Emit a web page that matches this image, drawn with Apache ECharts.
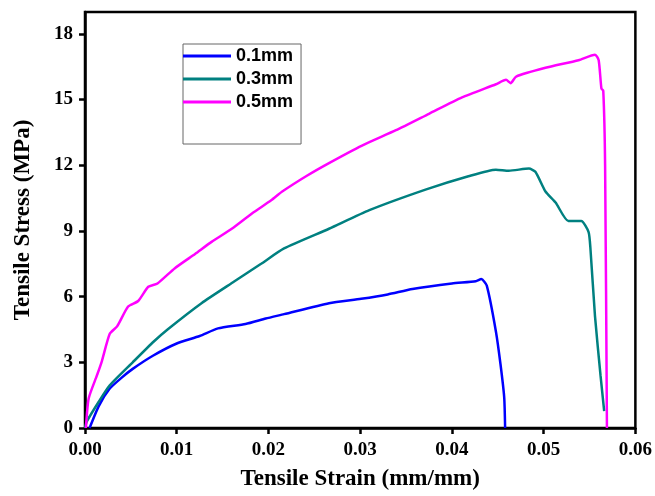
<!DOCTYPE html>
<html>
<head>
<meta charset="utf-8">
<script src="https://cdn.jsdelivr.net/npm/echarts@6/dist/echarts.min.js"></script>
<style type="text/css">
  html, body { margin: 0; padding: 0; background: #fff; }
  #chart { width: 655px; height: 496px; }
</style>
</head>
<body>
<div id="chart"></div>
<script>
  // 0.1mm
  var strain01 = [0.0005, 0.0015, 0.0027, 0.0040, 0.0052, 0.0074, 0.0100, 0.0125, 0.0145, 0.0175, 0.0197, 0.0217, 0.0266, 0.0301, 0.0330, 0.0357, 0.0400, 0.0426, 0.0432, 0.0438, 0.0448, 0.0453, 0.0457, 0.0458];
  var stress01 = [0, 1.0, 1.8, 2.3, 2.7, 3.3, 3.86, 4.2, 4.55, 4.75, 5.0, 5.2, 5.7, 5.9, 6.1, 6.35, 6.6, 6.7, 6.8, 6.5, 4.4, 2.9, 1.4, 0];
  // 0.3mm
  var strain03 = [0, 0.0002, 0.0015, 0.0027, 0.0052, 0.0075, 0.0090, 0.0127, 0.0163, 0.0192, 0.0217, 0.0266, 0.0310, 0.0372, 0.0418, 0.0448, 0.0462, 0.0484, 0.0491, 0.0502, 0.0513, 0.0527, 0.0541, 0.0549, 0.0551, 0.0556, 0.0562, 0.0566];
  var stress03 = [0, 0.3, 1.2, 1.95, 3.0, 3.95, 4.5, 5.7, 6.7, 7.5, 8.2, 9.1, 9.95, 10.9, 11.5, 11.8, 11.75, 11.85, 11.7, 10.8, 10.3, 9.45, 9.45, 8.95, 8.2, 5.1, 2.4, 0.77];
  // 0.5mm
  var strain05 = [0.0001, 0.0004, 0.0013, 0.0018, 0.0027, 0.0035, 0.0047, 0.0058, 0.0069, 0.0079, 0.0098, 0.0120, 0.0138, 0.0160, 0.0182, 0.0203, 0.0215, 0.0241, 0.0266, 0.0302, 0.0339, 0.0375, 0.0411, 0.0448, 0.0459, 0.0464, 0.0470, 0.0502, 0.0538, 0.0556, 0.0560, 0.0563, 0.0565, 0.0567, 0.0569];
  var stress05 = [0, 1.35, 2.4, 3.0, 4.3, 4.64, 5.55, 5.8, 6.45, 6.6, 7.3, 7.95, 8.5, 9.1, 9.8, 10.4, 10.8, 11.5, 12.1, 12.9, 13.6, 14.35, 15.1, 15.7, 15.9, 15.75, 16.05, 16.45, 16.8, 17.05, 16.8, 15.5, 15.4, 12.0, 0];

  var seriesNames = ['0.1mm', '0.3mm', '0.5mm'];
  var seriesColors = ['#0000ff', '#008080', '#ff00ff'];

  function pairs(xs, ys) {
    var out = [];
    for (var i = 0; i < xs.length; i++) {
      out.push([xs[i], ys[i]]);
    }
    return out;
  }

  var allData = [pairs(strain01, stress01), pairs(strain03, stress03), pairs(strain05, stress05)];

  var axisFont = {fontFamily: 'Liberation Serif', fontWeight: 'bold', fontSize: 19, color: '#000'};
  var nameFont = {fontFamily: 'Liberation Serif', fontWeight: 'bold', fontSize: 23, color: '#000'};

  var chart = echarts.init(document.getElementById('chart'));
  var option = {
    animation: false,
    grid: {
      left: 85, right: 18, top: 12, bottom: 66,
      show: true, borderColor: '#000', borderWidth: 2.5
    },
    legend: {
      orient: 'vertical',
      left: 183,
      top: 44,
      data: seriesNames,
      icon: 'rect',
      itemWidth: 48,
      itemHeight: 3,
      itemGap: 5,
      padding: [3, 8, 33, 0],
      borderColor: '#666',
      borderWidth: 1,
      textStyle: {fontFamily: 'Liberation Sans', fontWeight: 'bold', fontSize: 18, color: '#000', lineHeight: 18}
    },
    xAxis: {
      type: 'value',
      min: 0, max: 0.06, interval: 0.01,
      name: 'Tensile Strain (mm/mm)',
      nameLocation: 'middle',
      nameGap: 40,
      nameTextStyle: nameFont,
      axisLine: {onZero: false, lineStyle: {color: '#000', width: 2.5}},
      axisTick: {length: 6, lineStyle: {color: '#000', width: 2.5}},
      axisLabel: Object.assign({margin: 13, formatter: function (v) { return v.toFixed(2); }}, axisFont),
      splitLine: {show: false}
    },
    yAxis: {
      type: 'value',
      min: 0, max: 19, interval: 3,
      name: 'Tensile Stress (MPa)',
      nameLocation: 'middle',
      nameGap: 50,
      nameTextStyle: nameFont,
      axisLine: {show: true, onZero: false, lineStyle: {color: '#000', width: 2.5}},
      axisTick: {show: true, length: 6, lineStyle: {color: '#000', width: 2.5}},
      axisLabel: Object.assign({margin: 12, showMaxLabel: false}, axisFont),
      splitLine: {show: false}
    },
    series: seriesNames.map(function (name, i) {
      return {
        name: name,
        type: 'line',
        showSymbol: false,
        symbol: 'none',
        smooth: 0.2,
        color: seriesColors[i],
        lineStyle: {color: seriesColors[i], width: 2.5},
        data: allData[i]
      };
    })
  };
  chart.setOption(option);
</script>
</body>
</html>
